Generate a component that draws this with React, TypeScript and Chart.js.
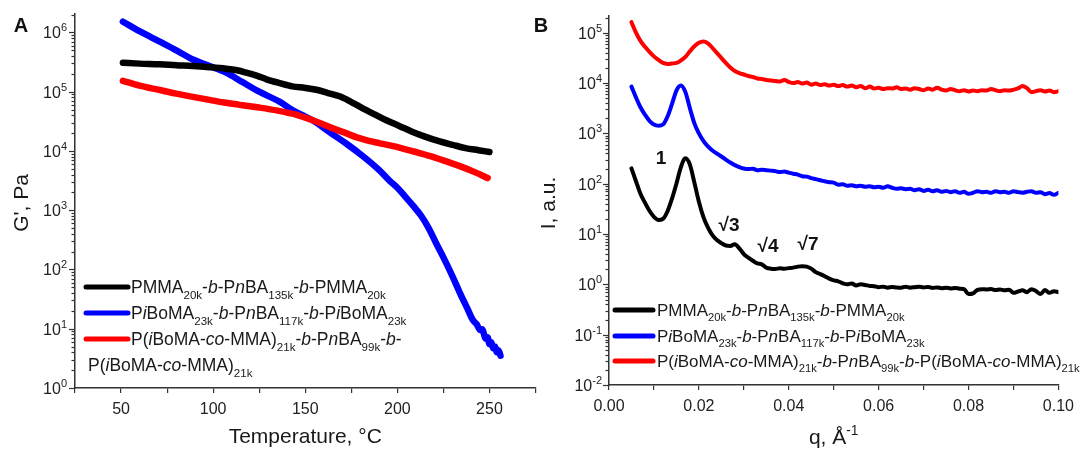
import React, { useEffect, useRef } from "react";
import { Chart, registerables } from "chart.js";

Chart.register(...registerables);

const FONT = '"Liberation Sans", Arial, Helvetica, sans-serif';

// ---------- Panel A: G' vs temperature ----------
const tempBlack = [51, 60, 71, 80, 89, 98, 107, 113, 118, 124, 129, 136, 143, 150, 156, 162, 169, 175, 181, 188, 194, 201, 208, 215, 223, 230, 237, 244, 250];
const gBlack = [3.08e5, 2.98e5, 2.9e5, 2.8e5, 2.72e5, 2.6e5, 2.45e5, 2.3e5, 2.1e5, 1.85e5, 1.62e5, 1.4e5, 1.23e5, 1.16e5, 1.08e5, 9.6e4, 8.3e4, 6.7e4, 5.3e4, 4.1e4, 3.3e4, 2.65e4, 2.12e4, 1.75e4, 1.45e4, 1.27e4, 1.12e4, 1.03e4, 9.6e3];

const tempBlue = [51, 60, 71, 80, 89, 98, 107, 116, 125, 136, 143, 150, 154, 163, 172, 181, 190, 196, 200, 205, 209, 213, 217, 221, 225, 230, 234, 238, 241, 243, 245, 246, 248, 249, 250, 251, 252, 253, 254, 255, 256];
const gBlue = [1.52e6, 1.05e6, 7.0e5, 5.0e5, 3.5e5, 2.72e5, 2.1e5, 1.45e5, 1.0e5, 6.8e4, 4.9e4, 3.8e4, 3.3e4, 2.1e4, 1.35e4, 8.3e3, 4.8e3, 3.1e3, 2.4e3, 1.6e3, 1.15e3, 800, 500, 280, 160, 76, 40, 22, 14, 12, 9.5, 9.8, 6.8, 7.2, 5.5, 5.9, 4.7, 5.0, 4.0, 4.3, 3.5];

const tempRed = [51, 60, 71, 80, 89, 98, 107, 116, 125, 135, 145, 150, 154, 160, 166, 172, 178, 184, 190, 196, 203, 209, 218, 227, 235, 242, 249];
const gRed = [1.53e5, 1.27e5, 1.07e5, 9.3e4, 8.2e4, 7.3e4, 6.5e4, 5.9e4, 5.4e4, 4.8e4, 4.1e4, 3.65e4, 3.3e4, 2.8e4, 2.35e4, 2.0e4, 1.7e4, 1.5e4, 1.36e4, 1.24e4, 1.1e4, 9.8e3, 8.2e3, 6.6e3, 5.4e3, 4.4e3, 3.5e3];

// ---------- Panel B: SAXS intensity vs q ----------
const qValues = [
  0.005, 0.006, 0.007, 0.008, 0.009, 0.010, 0.011, 0.012, 0.013, 0.014,
  0.015, 0.016, 0.017, 0.018, 0.019, 0.020, 0.021, 0.022, 0.023, 0.024,
  0.025, 0.026, 0.027, 0.028, 0.029, 0.030, 0.031, 0.032, 0.033, 0.034,
  0.035, 0.036, 0.037, 0.038, 0.039, 0.040, 0.041, 0.042, 0.043, 0.044,
  0.045, 0.046, 0.047, 0.048, 0.049, 0.050, 0.051, 0.052, 0.053, 0.054,
  0.055, 0.056, 0.057, 0.058, 0.059, 0.060, 0.061, 0.062, 0.063, 0.064,
  0.065, 0.066, 0.067, 0.068, 0.069, 0.070, 0.071, 0.072, 0.073, 0.074,
  0.075, 0.076, 0.077, 0.078, 0.079, 0.080, 0.081, 0.082, 0.083, 0.084,
  0.085, 0.086, 0.087, 0.088, 0.089, 0.090, 0.091, 0.092, 0.093, 0.094,
  0.095, 0.096, 0.097, 0.098, 0.099, 0.100,
];
const iBlack = [
  202, 112, 63, 42, 29, 22, 19, 20, 28, 50,
  100, 214, 320, 240, 105, 44, 22, 13.5, 9.5, 7.6,
  6.6, 5.9, 5.8, 6.3, 5.2, 4.0, 3.4, 2.95, 2.6, 2.5,
  2.15, 2.05, 2.03, 2.08, 2.04, 2.1, 2.15, 2.25, 2.3, 2.25,
  2.05, 1.75, 1.6, 1.45, 1.3, 1.2, 1.15, 1.05, 1.0, 1.04,
  0.95, 1.0, 0.97, 0.93, 0.92, 0.88, 0.9, 0.86, 0.89, 0.87,
  0.86, 0.9, 0.86, 0.88, 0.9, 0.87, 0.89, 0.85, 0.87, 0.84,
  0.86, 0.83, 0.85, 0.82, 0.8, 0.64, 0.66, 0.78, 0.8, 0.79,
  0.81, 0.77, 0.79, 0.76, 0.78, 0.68, 0.72, 0.76, 0.7, 0.8,
  0.74, 0.64, 0.77, 0.68, 0.73, 0.7,
];
const iBlue = [
  8500, 5200, 3300, 2350, 1780, 1500, 1420, 1500, 2140, 3800,
  7100, 8900, 6600, 3160, 1580, 1000, 710, 550, 457, 398,
  347, 302, 263, 234, 214, 200, 195, 199, 186, 190,
  186, 182, 178, 170, 174, 166, 158, 151, 141, 138,
  129, 123, 117, 112, 107, 105, 95, 98, 91, 93,
  89, 91, 87, 89, 85, 87, 83, 89, 83, 79,
  81, 78, 79, 74, 78, 72, 76, 71, 74, 69,
  72, 68, 71, 66, 69, 63, 66, 71, 68, 69,
  66, 71, 68, 69, 66, 71, 68, 66, 69, 71,
  66, 68, 62, 65, 60, 66,
];
const iRed = [
  162000, 100000, 69000, 52500, 41700, 33900, 28800, 25100, 24000, 24500,
  25100, 28200, 33100, 42700, 53700, 63100, 67000, 61700, 50100, 39800,
  31600, 25100, 20400, 17400, 15800, 14800, 13800, 13200, 12300, 12000,
  11500, 11200, 11000, 10700, 11500, 10500, 10000, 10500, 9800, 10200,
  9300, 9800, 9100, 9500, 8900, 9300, 8700, 9100, 8500, 8900,
  8300, 8700, 7900, 8500, 7800, 8100, 7600, 7900, 7800, 8300,
  7600, 7800, 7400, 7900, 7600, 7200, 7800, 7400, 8100, 7400,
  7100, 7600, 7200, 6900, 7200, 6800, 7100, 6900, 7200, 7100,
  7600, 7200, 6900, 7200, 7100, 7400, 7800, 8700, 7900, 6600,
  6900, 7200, 6800, 7100, 6600, 6900,
];

// peak index annotations (panel B)
const peakLabels = ["1", "\u221A3", "\u221A4", "\u221A7"];
const peakQ = [0.0116, 0.0267, 0.0354, 0.0443];
const peakI = [312, 14.6, 5.6, 6.1];

const seriesColors = ["#000000", "#0000ff", "#ff0000"];

type Seg = [string, string?];
const legendBlack: Seg[] = [["PMMA"], ["20k", "sub"], ["-"], ["b", "i"], ["-P"], ["n", "i"], ["BA"], ["135k", "sub"], ["-"], ["b", "i"], ["-PMMA"], ["20k", "sub"]];
const legendBlue: Seg[] = [["P"], ["i", "i"], ["BoMA"], ["23k", "sub"], ["-"], ["b", "i"], ["-P"], ["n", "i"], ["BA"], ["117k", "sub"], ["-"], ["b", "i"], ["-P"], ["i", "i"], ["BoMA"], ["23k", "sub"]];
const legendRedHead: Seg[] = [["P("], ["i", "i"], ["BoMA-"], ["co", "i"], ["-MMA)"], ["21k", "sub"], ["-"], ["b", "i"], ["-P"], ["n", "i"], ["BA"], ["99k", "sub"], ["-"], ["b", "i"], ["-"]];
const legendRedTail: Seg[] = [["P("], ["i", "i"], ["BoMA-"], ["co", "i"], ["-MMA)"], ["21k", "sub"]];

// ---------- drawing helpers ----------
function segFont(style: string | undefined, size: number, bold = false) {
  const small = style === "sub" || style === "sup";
  const fs = small ? size * 0.66 : size;
  return `${style === "i" ? "italic " : ""}${bold ? "bold " : ""}${fs}px ${FONT}`;
}
function richWidth(ctx: CanvasRenderingContext2D, segs: Seg[], size: number) {
  let w = 0;
  for (const [t, s] of segs) {
    ctx.font = segFont(s, size);
    w += ctx.measureText(t).width;
  }
  return w;
}
function drawRich(ctx: CanvasRenderingContext2D, segs: Seg[], x: number, baseline: number, size: number) {
  let cx = x;
  ctx.textAlign = "left";
  ctx.textBaseline = "alphabetic";
  for (const [t, s] of segs) {
    ctx.font = segFont(s, size);
    const dy = s === "sub" ? size * 0.3 : s === "sup" ? -size * 0.42 : 0;
    ctx.fillText(t, cx, baseline + dy);
    cx += ctx.measureText(t).width;
  }
  return cx;
}

function drawLogAxis(chart: any, labelRightGap: number) {
  const ctx: CanvasRenderingContext2D = chart.ctx;
  const ys = chart.scales.y;
  const x0 = chart.chartArea.left;
  const lo = Math.floor(Math.log10(ys.min));
  const hi = Math.ceil(Math.log10(ys.max));
  ctx.save();
  ctx.strokeStyle = "#333";
  ctx.lineWidth = 1.2;
  ctx.fillStyle = "#222";
  for (let e = lo; e <= hi; e++) {
    for (let m = 1; m <= 9; m++) {
      const v = m * Math.pow(10, e);
      if (v < ys.min * 0.999 || v > ys.max * 1.001) continue;
      const py = Math.round(ys.getPixelForValue(v)) + 0.5;
      const len = m === 1 ? 6 : 3.5;
      ctx.beginPath();
      ctx.moveTo(x0, py);
      ctx.lineTo(x0 - len, py);
      ctx.stroke();
      if (m === 1) {
        const expText = String(e);
        ctx.font = `11px ${FONT}`;
        const ew = ctx.measureText(expText).width;
        ctx.font = `16px ${FONT}`;
        const bw = ctx.measureText("10").width;
        const right = x0 - labelRightGap;
        ctx.textAlign = "left";
        ctx.textBaseline = "alphabetic";
        ctx.fillText("10", right - ew - bw, py + 5.8);
        ctx.font = `11px ${FONT}`;
        ctx.fillText(expText, right - ew, py - 1.5);
      }
    }
  }
  ctx.restore();
}

function drawLegend(ctx: CanvasRenderingContext2D, rows: { segs: Seg[]; color?: string; y: number; x: number }[], lineX0: number, lineX1: number, size: number) {
  ctx.save();
  for (const r of rows) {
    if (r.color) {
      ctx.strokeStyle = r.color;
      ctx.lineWidth = 5;
      ctx.lineCap = "round";
      ctx.beginPath();
      ctx.moveTo(lineX0, r.y);
      ctx.lineTo(lineX1, r.y);
      ctx.stroke();
    }
    ctx.fillStyle = "#1a1a1a";
    drawRich(ctx, r.segs, r.x, r.y + size * 0.36, size);
  }
  ctx.restore();
}

function drawYTitle(ctx: CanvasRenderingContext2D, text: string, x: number, y: number) {
  ctx.save();
  ctx.translate(x, y);
  ctx.rotate(-Math.PI / 2);
  ctx.font = `21px ${FONT}`;
  ctx.fillStyle = "#1a1a1a";
  ctx.textAlign = "center";
  ctx.textBaseline = "middle";
  ctx.fillText(text, 0, 0);
  ctx.restore();
}

function drawPanelLetter(ctx: CanvasRenderingContext2D, letter: string, x: number, y: number) {
  ctx.save();
  ctx.font = `bold 20px ${FONT}`;
  ctx.fillStyle = "#111";
  ctx.textAlign = "center";
  ctx.textBaseline = "middle";
  ctx.fillText(letter, x, y);
  ctx.restore();
}

const decorA = {
  id: "decorA",
  afterDraw(chart: any) {
    const ctx: CanvasRenderingContext2D = chart.ctx;
    const ca = chart.chartArea;
    drawLogAxis(chart, 8);
    drawYTitle(ctx, "G', Pa", 22, 203);
    ctx.save();
    ctx.font = `21px ${FONT}`;
    ctx.fillStyle = "#1a1a1a";
    ctx.textAlign = "center";
    ctx.textBaseline = "middle";
    ctx.fillText("Temperature, \u00B0C", (ca.left + ca.right) / 2, 437);
    ctx.restore();
    drawPanelLetter(ctx, "A", 21, 26);
    drawLegend(
      ctx,
      [
        { segs: legendBlack, color: seriesColors[0], y: 287, x: 131 },
        { segs: legendBlue, color: seriesColors[1], y: 313, x: 131 },
        { segs: legendRedHead, color: seriesColors[2], y: 339, x: 131 },
        { segs: legendRedTail, y: 365, x: 88 },
      ],
      86,
      128,
      17.5
    );
  },
};

const decorB = {
  id: "decorB",
  afterDraw(chart: any) {
    const ctx: CanvasRenderingContext2D = chart.ctx;
    const ca = chart.chartArea;
    drawLogAxis(chart, 7);
    drawYTitle(ctx, "I, a.u.", 549, 203);
    ctx.save();
    ctx.fillStyle = "#1a1a1a";
    const tSegs: Seg[] = [["q, \u00C5"], ["-1", "sup"]];
    const w = richWidth(ctx, tSegs, 21);
    drawRich(ctx, tSegs, (ca.left + ca.right) / 2 - w / 2, 444, 21);
    ctx.restore();
    drawPanelLetter(ctx, "B", 541, 26);
    // peak annotations placed via data scales
    ctx.save();
    ctx.fillStyle = "#111";
    ctx.textAlign = "center";
    ctx.textBaseline = "middle";
    ctx.font = `bold 19px ${FONT}`;
    for (let i = 0; i < peakLabels.length; i++) {
      const px = chart.scales.x.getPixelForValue(peakQ[i]);
      const py = chart.scales.y.getPixelForValue(peakI[i]);
      ctx.fillText(peakLabels[i], px, py);
    }
    ctx.restore();
    drawLegend(
      ctx,
      [
        { segs: legendBlack, color: seriesColors[0], y: 310, x: 657 },
        { segs: legendBlue, color: seriesColors[1], y: 336, x: 657 },
        { segs: [...legendRedHead, ...legendRedTail], color: seriesColors[2], y: 361, x: 657 },
      ],
      615,
      653,
      17
    );
  },
};

function xy(xs: number[], ys: number[]) {
  return xs.map((x, i) => ({ x, y: ys[i] }));
}

function lineDs(data: any[], color: string, width: number, order: number) {
  return {
    data,
    borderColor: color,
    backgroundColor: color,
    borderWidth: width,
    pointRadius: 0,
    fill: false,
    cubicInterpolationMode: "monotone" as const,
    borderCapStyle: "round" as const,
    borderJoinStyle: "round" as const,
    order,
  };
}

const W = 1081;
const H = 449;

function configA(): any {
  return {
    type: "line",
    data: {
      datasets: [
        lineDs(xy(tempBlack, gBlack), seriesColors[0], 6.5, 1),
        lineDs(xy(tempRed, gRed), seriesColors[2], 6.5, 2),
        lineDs(xy(tempBlue, gBlue), seriesColors[1], 6.5, 3),
      ],
    },
    options: {
      responsive: false,
      maintainAspectRatio: false,
      animation: false,
      devicePixelRatio: 1,
      layout: { padding: { left: 0, top: 14, right: W - 535.5, bottom: 0 } },
      plugins: { legend: { display: false }, tooltip: { enabled: false } },
      scales: {
        x: {
          type: "linear",
          min: 25,
          max: 275,
          afterFit: (s: any) => {
            s.height = H - 388;
          },
          ticks: {
            stepSize: 25,
            autoSkip: false,
            maxRotation: 0,
            padding: 7,
            color: "#222",
            font: { family: FONT, size: 16 },
            callback: (v: any) => (Number(v) % 50 === 0 ? String(v) : ""),
          },
          grid: { display: true, drawOnChartArea: false, drawTicks: true, tickLength: 5, color: "#333", lineWidth: 1.2 },
          border: { display: true, color: "#333", width: 1.5 },
        },
        y: {
          type: "logarithmic",
          min: 1,
          max: 2.05e6,
          afterFit: (s: any) => {
            s.width = 75;
          },
          ticks: { display: false },
          grid: { display: false },
          border: { display: true, color: "#333", width: 1.5 },
        },
      },
    },
    plugins: [decorA],
  };
}

function configB(): any {
  return {
    type: "line",
    data: {
      datasets: [
        lineDs(xy(qValues, iBlack), seriesColors[0], 4, 1),
        lineDs(xy(qValues, iBlue), seriesColors[1], 4, 2),
        lineDs(xy(qValues, iRed), seriesColors[2], 4, 3),
      ],
    },
    options: {
      responsive: false,
      maintainAspectRatio: false,
      animation: false,
      devicePixelRatio: 1,
      layout: { padding: { left: 0, top: 16, right: W - 1063, bottom: 0 } },
      plugins: { legend: { display: false }, tooltip: { enabled: false } },
      scales: {
        x: {
          type: "linear",
          min: 0,
          max: 0.1,
          afterFit: (s: any) => {
            s.height = H - 385;
          },
          ticks: {
            stepSize: 0.01,
            autoSkip: false,
            maxRotation: 0,
            padding: 7,
            color: "#222",
            font: { family: FONT, size: 16 },
            callback: (v: any) => (Math.round(Number(v) * 1000) % 20 === 0 ? Number(v).toFixed(2) : ""),
          },
          grid: { display: true, drawOnChartArea: false, drawTicks: true, tickLength: 5, color: "#333", lineWidth: 1.2 },
          border: { display: true, color: "#333", width: 1.5 },
        },
        y: {
          type: "logarithmic",
          min: 0.01,
          max: 2.15e5,
          afterFit: (s: any) => {
            s.width = 609;
          },
          ticks: { display: false },
          grid: { display: false },
          border: { display: true, color: "#333", width: 1.5 },
        },
      },
    },
    plugins: [decorB],
  };
}

export default function App() {
  const refA = useRef<HTMLCanvasElement>(null);
  const refB = useRef<HTMLCanvasElement>(null);
  useEffect(() => {
    const a = new Chart(refA.current as HTMLCanvasElement, configA());
    const b = new Chart(refB.current as HTMLCanvasElement, configB());
    return () => {
      a.destroy();
      b.destroy();
    };
  }, []);
  return (
    <div style={{ position: "absolute", left: 0, top: 0, width: W, height: H, background: "#fff", overflow: "hidden" }}>
      <canvas ref={refA} width={W} height={H} style={{ position: "absolute", left: 0, top: 0 }} />
      <canvas ref={refB} width={W} height={H} style={{ position: "absolute", left: 0, top: 0 }} />
    </div>
  );
}
